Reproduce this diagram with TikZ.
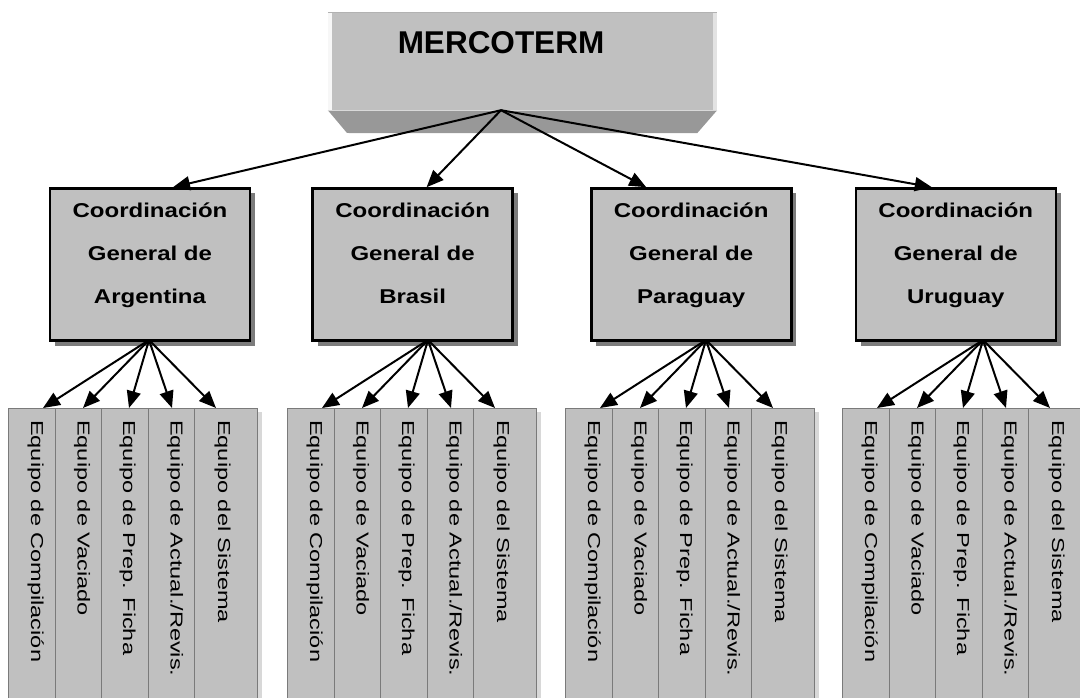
\documentclass[tikz,border=0pt]{standalone}
\usepackage{fontspec}
\setmainfont{Liberation Sans}
\newfontfamily\coordfont{Liberation Sans}[FakeStretch=1.2]
\usetikzlibrary{arrows.meta, positioning, calc, shadows}
\definecolor{boxgrey}{HTML}{C0C0C0}
\definecolor{bevelgrey}{HTML}{989898}
\definecolor{shadowgrey}{HTML}{7C7C7C}
\definecolor{edgegrey}{HTML}{7A7A7A}
\definecolor{lightshadow}{HTML}{D8D8D8}
\newcommand{\teamlabel}[1]{\scalebox{1.36}[1]{#1}}

\tikzset{
    topface/.style={fill=boxgrey, minimum width=389pt, minimum height=97pt, inner sep=0pt},
    coordbox/.style={draw=black, line width=2.6pt, fill=boxgrey, minimum width=200pt, minimum height=152pt,
        inner sep=0pt, align=center, text height=80pt, text depth=3pt,
        font=\coordfont\bfseries\fontsize{20}{43}\selectfont,
        drop shadow={shadow xshift=5pt, shadow yshift=-5pt, fill=shadowgrey, opacity=1}},
    team/.style={draw=edgegrey, line width=1.4pt, fill=boxgrey, minimum height=300pt, inner sep=0pt, anchor=north west},
    teamtext/.style={rotate=-90, anchor=base west, inner sep=0pt, font=\fontsize{17.3}{19}\selectfont},
    link/.style={-{Triangle[length=17pt, width=14pt]}, line width=2pt}
}

\begin{document}
\begin{tikzpicture}[x=1pt, y=-1pt]
    \useasboundingbox (0,0) rectangle (1080,698);

    % MERCOTERM block
    \node[topface] (merc) at (522.5,61.5) {};
    \fill[bevelgrey] (merc.south west) -- (merc.south east) -- ++(-20,23) -- (347,133) -- cycle;
    \fill[white!88!boxgrey] (merc.north west) rectangle ++(4,97);
    \fill[white!55!boxgrey] ([xshift=-4pt]merc.north east) rectangle (merc.south east);
    \draw[black!30, line width=1.2pt] (merc.north west) -- (merc.north east);
    \draw[white!40!boxgrey, line width=1pt] (merc.south west) -- (merc.south east);
    \node[anchor=base, inner sep=0pt, font=\bfseries\fontsize{31.5}{36}\selectfont] (mercotext) at (501,54) {MERCOTERM};

    % coordinaciones
    \node[coordbox] (arg) at (150,264.5) {Coordinación\\General de\\Argentina};
    \node[coordbox, right=60pt of arg] (bra) {Coordinación\\General de\\Brasil};
    \node[coordbox, right=76pt of bra] (par) {Coordinación\\General de\\Paraguay};
    \node[coordbox, right=62pt of par] (uru) {Coordinación\\General de\\Uruguay};

    \draw[link] (mercotext |- merc.south) -- ([xshift=23pt]arg.north);
    \draw[link] (mercotext |- merc.south) -- ([xshift=14pt]bra.north);
    \draw[link] (mercotext |- merc.south) -- ([xshift=-45pt]par.north);
    \draw[link] (mercotext |- merc.south) -- ([xshift=-24pt]uru.north);

    % equipos
    \foreach \g/\L in {a/8, b/287, c/565, d/842} {
        \fill[lightshadow] (\L+249,412) rectangle (\L+254,698);
        \node[team, minimum width=46.5pt] (\g1) at (\L,408) {};
        \node[team, minimum width=46.5pt] (\g2) at (\L+46.5,408) {};
        \node[team, minimum width=46.5pt] (\g3) at (\L+93,408) {};
        \node[team, minimum width=46.5pt] (\g4) at (\L+139.5,408) {};
        \node[team, minimum width=63pt] (\g5) at (\L+186,408) {};
        \node[teamtext] (\g t1) at ([xshift=23pt, yshift=-12pt]\g1.north west) {\teamlabel{Equipo de Compilación}};
        \node[teamtext] (\g t2) at ([xshift=23pt, yshift=-12pt]\g2.north west) {\teamlabel{Equipo de Vaciado}};
        \node[teamtext] (\g t3) at ([xshift=22pt, yshift=-12pt]\g3.north west) {\teamlabel{Equipo de Prep. Ficha}};
        \node[teamtext] (\g t4) at ([xshift=23pt, yshift=-12pt]\g4.north west) {\teamlabel{Equipo de Actual./Revis.}};
        \node[teamtext] (\g t5) at ([xshift=24pt, yshift=-12pt]\g5.north west) {\teamlabel{Equipo del Sistema}};
        \coordinate (\g hub) at (\L+141,340);
        \draw[link] (\g hub) -- ([xshift=35pt]\g1.north west);
        \draw[link] (\g hub) -- ([xshift=28.5pt]\g2.north west);
        \draw[link] (\g hub) -- ([xshift=28pt]\g3.north west);
        \draw[link] (\g hub) -- ([xshift=24.5pt]\g4.north west);
        \draw[link] (\g hub) -- ([xshift=22pt]\g5.north west);
    }
\end{tikzpicture}
\end{document}
